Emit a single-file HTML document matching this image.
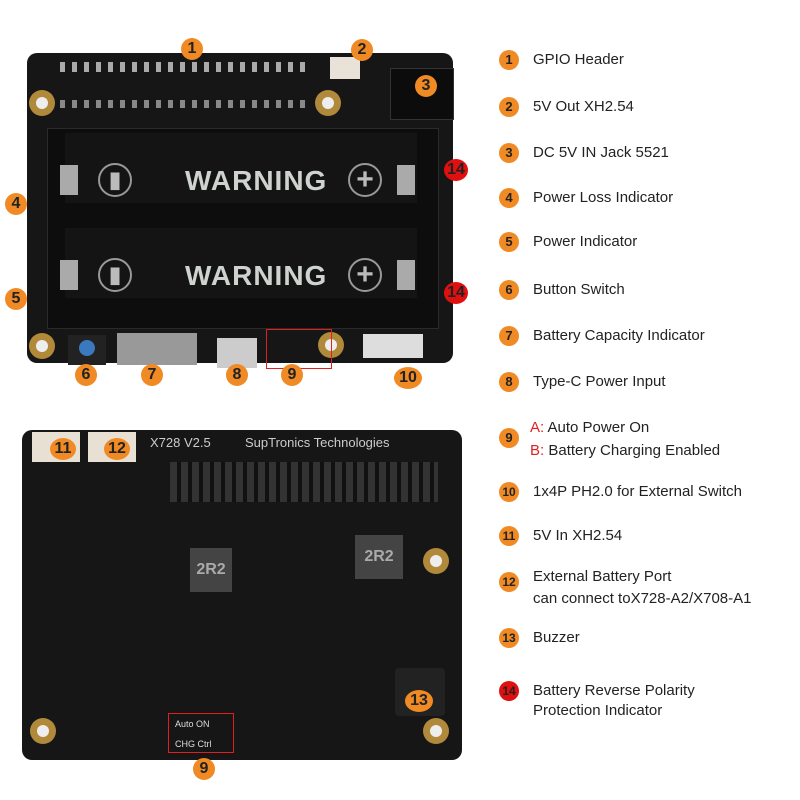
<!DOCTYPE html>
<html><head><style>
body{margin:0;width:800px;height:800px;background:#fff;position:relative;overflow:hidden;font-family:"Liberation Sans",sans-serif}
.a{position:absolute}
.c{position:absolute;width:22px;height:22px;border-radius:50%;background:#f08a24;color:#222;font:bold 16px "Liberation Sans",sans-serif;text-align:center;line-height:22px}
.r{background:#e01010}
.l{position:absolute;left:533px;font-size:15px;color:#222}
.h{position:absolute;width:26px;height:26px;border-radius:50%;background:#b08a3a}
.h::after{content:"";position:absolute;left:7px;top:7px;width:12px;height:12px;border-radius:50%;background:#eee}
.w{position:absolute;color:#cfd3cf;font:bold 28px "Liberation Sans",sans-serif;letter-spacing:1px}
</style></head><body>
<!-- top board -->
<div class="a" style="left:27px;top:53px;width:426px;height:310px;background:#161616;border-radius:10px"></div>
<div class="a" style="left:60px;top:62px;width:245px;height:10px;background:repeating-linear-gradient(90deg,#aaa 0 5px,transparent 5px 12px)"></div>
<div class="a" style="left:60px;top:100px;width:245px;height:8px;background:repeating-linear-gradient(90deg,#888 0 5px,transparent 5px 12px)"></div>
<div class="a" style="left:330px;top:57px;width:30px;height:22px;background:#e8e2d8"></div>
<div class="a" style="left:390px;top:68px;width:62px;height:50px;background:#0c0c0c;border:1px solid #333"></div>
<div class="h" style="left:29px;top:90px"></div><div class="h" style="left:315px;top:90px"></div>
<div class="h" style="left:29px;top:333px"></div><div class="h" style="left:318px;top:332px"></div>
<div class="a" style="left:47px;top:128px;width:390px;height:199px;background:#0d0d0d;border:1px solid #2a2a2a"></div>
<div class="a" style="left:65px;top:133px;width:352px;height:70px;background:#141414"></div>
<div class="a" style="left:65px;top:228px;width:352px;height:70px;background:#141414"></div>
<div class="w" style="left:185px;top:165px">WARNING</div>
<div class="w" style="left:185px;top:260px">WARNING</div>
<div class="a" style="left:98px;top:163px;width:30px;height:30px;border:2px solid #999;border-radius:50%;color:#bbb;text-align:center;font:bold 22px/30px sans-serif">▮</div>
<div class="a" style="left:98px;top:258px;width:30px;height:30px;border:2px solid #999;border-radius:50%;color:#bbb;text-align:center;font:bold 22px/30px sans-serif">▮</div>
<div class="a" style="left:348px;top:163px;width:30px;height:30px;border:2px solid #999;border-radius:50%;color:#bbb;text-align:center;font:bold 30px/30px sans-serif">+</div>
<div class="a" style="left:348px;top:258px;width:30px;height:30px;border:2px solid #999;border-radius:50%;color:#bbb;text-align:center;font:bold 30px/30px sans-serif">+</div>
<div class="a" style="left:60px;top:165px;width:18px;height:30px;background:#aaa"></div>
<div class="a" style="left:60px;top:260px;width:18px;height:30px;background:#aaa"></div>
<div class="a" style="left:397px;top:165px;width:18px;height:30px;background:#aaa"></div>
<div class="a" style="left:397px;top:260px;width:18px;height:30px;background:#aaa"></div>
<div class="a" style="left:68px;top:335px;width:38px;height:30px;background:#222"></div>
<div class="a" style="left:79px;top:340px;width:16px;height:16px;border-radius:50%;background:#3a78c0"></div>
<div class="a" style="left:117px;top:333px;width:80px;height:32px;background:#999"></div>
<div class="a" style="left:217px;top:338px;width:40px;height:30px;background:#ccc"></div>
<div class="a" style="left:266px;top:329px;width:64px;height:38px;border:1px solid #e02020"></div>
<div class="a" style="left:363px;top:334px;width:60px;height:24px;background:#ddd"></div>
<!-- bottom board -->
<div class="a" style="left:22px;top:430px;width:440px;height:330px;background:#161616;border-radius:10px"></div>
<div class="a" style="left:32px;top:432px;width:48px;height:30px;background:#e8e0d2"></div>
<div class="a" style="left:88px;top:432px;width:48px;height:30px;background:#e8e0d2"></div>
<div class="a" style="left:170px;top:462px;width:268px;height:40px;background:repeating-linear-gradient(90deg,#333 0 7px,#111 7px 11px)"></div>
<div class="a" style="left:190px;top:548px;width:42px;height:44px;background:#444;color:#aaa;font:bold 16px/44px sans-serif;text-align:center">2R2</div>
<div class="a" style="left:355px;top:535px;width:48px;height:44px;background:#444;color:#aaa;font:bold 16px/44px sans-serif;text-align:center">2R2</div>
<div class="a" style="left:150px;top:435px;color:#ccc;font-size:13px">X728 V2.5</div>
<div class="a" style="left:245px;top:435px;color:#ccc;font-size:13px">SupTronics Technologies</div>
<div class="h" style="left:30px;top:718px"></div><div class="h" style="left:30px;top:533px;opacity:0"></div>
<div class="h" style="left:423px;top:718px"></div><div class="h" style="left:423px;top:548px"></div>
<div class="a" style="left:395px;top:668px;width:50px;height:48px;background:#222;border-radius:4px"></div>
<div class="a" style="left:168px;top:713px;width:66px;height:40px;border:1px solid #e02020;color:#ddd;font-size:9px;line-height:20px;padding-left:6px;box-sizing:border-box">Auto ON<br>CHG Ctrl</div>
<!-- board labels -->
<div class="c" style="left:181px;top:38px">1</div>
<div class="c" style="left:351px;top:39px">2</div>
<div class="c" style="left:415px;top:75px">3</div>
<div class="c" style="left:5px;top:193px">4</div>
<div class="c" style="left:5px;top:288px">5</div>
<div class="c" style="left:75px;top:364px">6</div>
<div class="c" style="left:141px;top:364px">7</div>
<div class="c" style="left:226px;top:364px">8</div>
<div class="c" style="left:281px;top:364px">9</div>
<div class="c" style="left:394px;top:367px;width:28px">10</div>
<div class="c r" style="left:444px;top:159px;width:24px">14</div>
<div class="c r" style="left:444px;top:282px;width:24px">14</div>
<div class="c" style="left:50px;top:438px;width:26px">11</div>
<div class="c" style="left:104px;top:438px;width:26px">12</div>
<div class="c" style="left:405px;top:690px;width:28px">13</div>
<div class="c" style="left:193px;top:758px">9</div>
<!-- legend -->
<div class="c" style="left:499px;top:50px;width:20px;height:20px;line-height:20px;font-size:13px">1</div><div class="l" style="top:51px">GPIO Header</div>
<div class="c" style="left:499px;top:97px;width:20px;height:20px;line-height:20px;font-size:13px">2</div><div class="l" style="top:98px">5V Out XH2.54</div>
<div class="c" style="left:499px;top:143px;width:20px;height:20px;line-height:20px;font-size:13px">3</div><div class="l" style="top:144px">DC 5V IN Jack 5521</div>
<div class="c" style="left:499px;top:188px;width:20px;height:20px;line-height:20px;font-size:13px">4</div><div class="l" style="top:189px">Power Loss Indicator</div>
<div class="c" style="left:499px;top:232px;width:20px;height:20px;line-height:20px;font-size:13px">5</div><div class="l" style="top:233px">Power Indicator</div>
<div class="c" style="left:499px;top:280px;width:20px;height:20px;line-height:20px;font-size:13px">6</div><div class="l" style="top:281px">Button Switch</div>
<div class="c" style="left:499px;top:326px;width:20px;height:20px;line-height:20px;font-size:13px">7</div><div class="l" style="top:327px">Battery Capacity Indicator</div>
<div class="c" style="left:499px;top:372px;width:20px;height:20px;line-height:20px;font-size:13px">8</div><div class="l" style="top:373px">Type-C Power Input</div>
<div class="c" style="left:499px;top:428px;width:20px;height:20px;line-height:20px;font-size:13px">9</div>
<div class="l" style="left:530px;top:419px"><span style="color:#e02020">A:</span> Auto Power On</div>
<div class="l" style="left:530px;top:442px"><span style="color:#e02020">B:</span> Battery Charging Enabled</div>
<div class="c" style="left:499px;top:482px;width:20px;height:20px;line-height:20px;font-size:12px">10</div><div class="l" style="top:483px">1x4P PH2.0 for External Switch</div>
<div class="c" style="left:499px;top:526px;width:20px;height:20px;line-height:20px;font-size:12px">11</div><div class="l" style="top:527px">5V In XH2.54</div>
<div class="c" style="left:499px;top:572px;width:20px;height:20px;line-height:20px;font-size:12px">12</div>
<div class="l" style="top:568px">External Battery Port</div>
<div class="l" style="top:590px">can connect toX728-A2/X708-A1</div>
<div class="c" style="left:499px;top:628px;width:20px;height:20px;line-height:20px;font-size:12px">13</div><div class="l" style="top:629px">Buzzer</div>
<div class="c r" style="left:499px;top:681px;width:20px;height:20px;line-height:20px;font-size:12px">14</div>
<div class="l" style="top:682px">Battery Reverse Polarity</div>
<div class="l" style="top:702px">Protection Indicator</div>
</body></html>
